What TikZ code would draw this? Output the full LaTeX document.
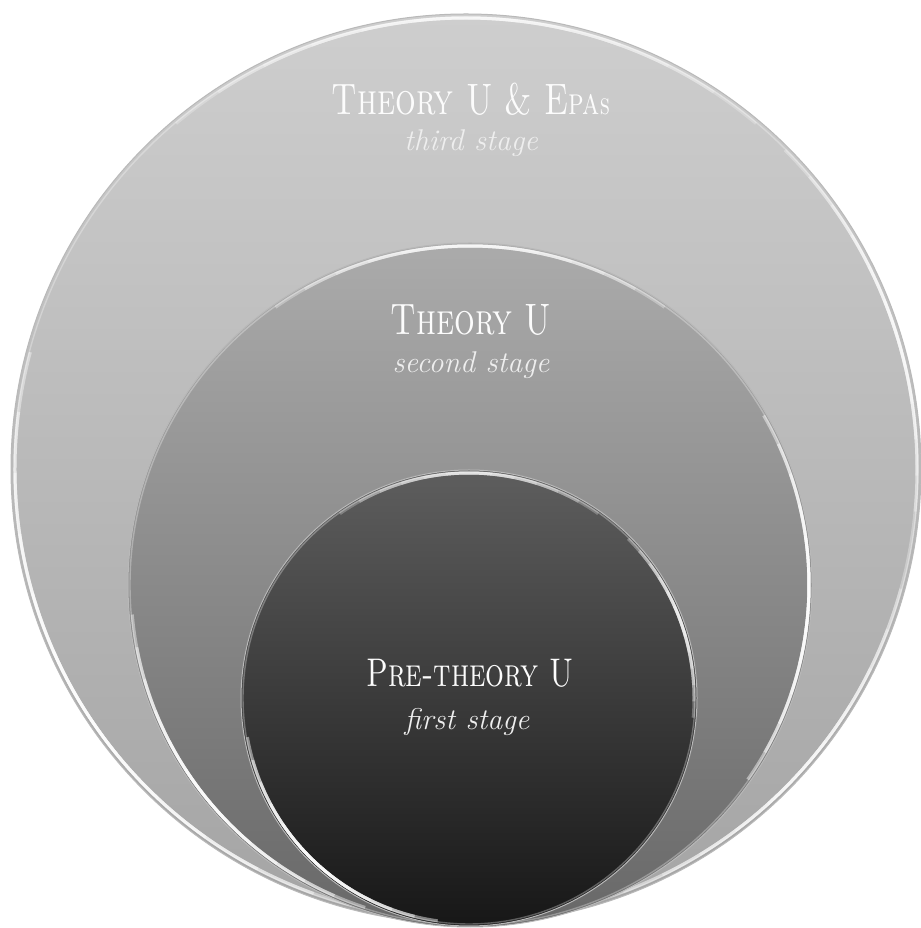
\documentclass[tikz,border=0pt]{standalone}
\usetikzlibrary{calc}
\definecolor{oTop}{HTML}{CECECE}
\definecolor{oBot}{HTML}{A4A4A4}
\definecolor{mTop}{HTML}{ABABAB}
\definecolor{mBot}{HTML}{686868}
\definecolor{iTop}{HTML}{5E5E5E}
\definecolor{iBot}{HTML}{171717}
\definecolor{txt}{HTML}{FCFCFC}
\definecolor{subtxt}{HTML}{EEEEEE}
% fading highlight along a rim: centre, radius, start angle, end angle, layer opacity
\newcommand{\rimglow}[5]{%
  \foreach \k in {0,...,5}{%
    \pgfmathsetmacro{\sa}{#3+\k*(#4-#3)/12}%
    \pgfmathsetmacro{\ea}{#4-\k*(#4-#3)/12}%
    \draw[draw=white, line width=3pt, opacity=#5] ($(#1)+(\sa:#2)$) arc (\sa:\ea:#2);
  }}
\begin{document}
\begin{tikzpicture}[x=1pt,y=1pt,
  ring/.style={circle, inner sep=0pt, outer sep=0pt, draw=gray!55!white, line width=1pt},
  softrim/.style={draw=white, line width=1.4pt, opacity=0.3},
  titletext/.style={text=txt, anchor=base, inner sep=0pt, xscale=0.74, transform shape, font=\fontsize{44}{44}\selectfont},
  subtext/.style={text=subtxt, inner sep=0pt, font=\fontsize{30}{30}\selectfont\itshape}]
\useasboundingbox (0,0) rectangle (920,928);
\fill[white] (0,0) rectangle (920,928);
% outer circle
\node[ring, minimum size=910pt, top color=oTop, bottom color=oBot] (outer) at (466,459) {};
\draw[softrim] (outer.center) circle[radius=452pt];
\rimglow{outer.center}{451}{165}{258}{0.42}
\rimglow{outer.center}{451}{-10}{45}{0.3}
\rimglow{outer.center}{451}{285}{350}{0.3}
\rimglow{outer.center}{451}{50}{130}{0.25}
% middle circle
\node[ring, minimum size=684pt, top color=mTop, bottom color=mBot] (middle) at (470,343) {};
\draw[softrim] (middle.center) circle[radius=340pt];
\rimglow{middle.center}{339}{185}{252}{0.42}
\rimglow{middle.center}{339}{325}{390}{0.45}
\rimglow{middle.center}{339}{55}{125}{0.3}
% inner circle
\node[ring, minimum size=456pt, top color=iTop, bottom color=iBot] (inner) at (469,230) {};
\draw[softrim] (inner.center) circle[radius=226pt];
\rimglow{inner.center}{225}{190}{262}{0.45}
\rimglow{inner.center}{225}{-5}{45}{0.3}
\rimglow{inner.center}{225}{55}{125}{0.25}
% texts
\node[titletext] (t3) at (471,813) {\textsc{Theory U \& E{\fontsize{38}{38}\selectfont pa}{\fontsize{30}{30}\selectfont s}}};
\node[subtext] (s3) at (471,785) {third stage};
\node[titletext] (t2) at (471,593) {\textsc{Theory U}};
\node[subtext] (s2) at (471,563) {second stage};
\node[titletext, font=\fontsize{40}{40}\selectfont] (t1) at (470,241) {\textsc{Pre-theory U}};
\node[subtext] (s1) at (467,206) {first stage};
\end{tikzpicture}
\end{document}
